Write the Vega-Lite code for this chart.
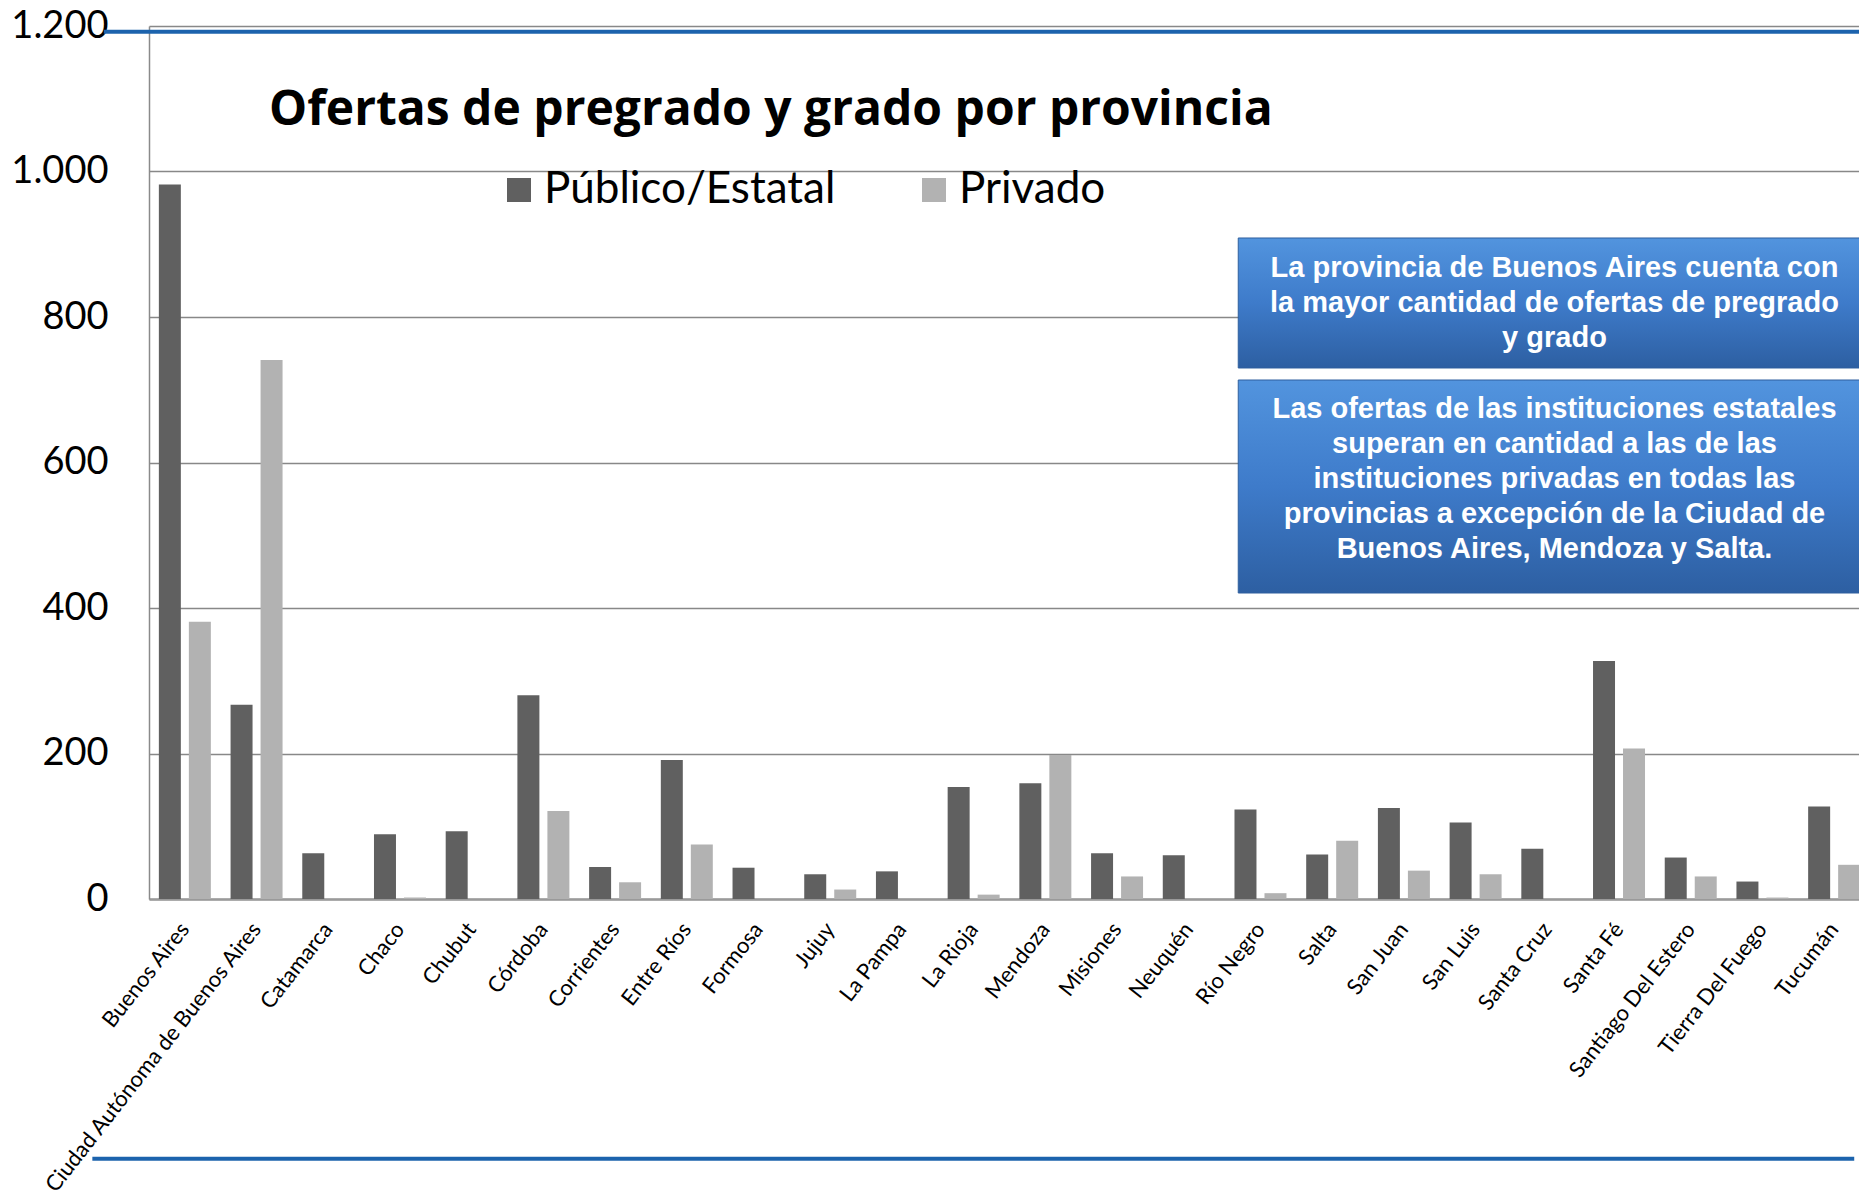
{
  "$schema": "https://vega.github.io/schema/vega-lite/v6.json",
  "autosize": {"type": "none"},
  "padding": {"left": 149, "top": 26, "right": -11, "bottom": 297},
  "width": 1721,
  "height": 873,
  "background": "white",
  "title": {
    "text": "Ofertas de pregrado y grado por provincia",
    "orient": "top",
    "anchor": "start",
    "frame": "group",
    "offset": 0,
    "baseline": "alphabetic",
    "dx": 120,
    "dy": 166,
    "font": "Open Sans",
    "fontWeight": "bold",
    "fontSize": 48,
    "color": "#000000"
  },
  "datasets": {
    "ofertas": [
      {"provincia": "Buenos Aires", "tipo": "Público/Estatal", "ofertas": 982},
      {"provincia": "Buenos Aires", "tipo": "Privado", "ofertas": 381},
      {"provincia": "Ciudad Autónoma de Buenos Aires", "tipo": "Público/Estatal", "ofertas": 267},
      {"provincia": "Ciudad Autónoma de Buenos Aires", "tipo": "Privado", "ofertas": 741},
      {"provincia": "Catamarca", "tipo": "Público/Estatal", "ofertas": 63},
      {"provincia": "Catamarca", "tipo": "Privado", "ofertas": 0},
      {"provincia": "Chaco", "tipo": "Público/Estatal", "ofertas": 89},
      {"provincia": "Chaco", "tipo": "Privado", "ofertas": 2},
      {"provincia": "Chubut", "tipo": "Público/Estatal", "ofertas": 93},
      {"provincia": "Chubut", "tipo": "Privado", "ofertas": 0},
      {"provincia": "Córdoba", "tipo": "Público/Estatal", "ofertas": 280},
      {"provincia": "Córdoba", "tipo": "Privado", "ofertas": 121},
      {"provincia": "Corrientes", "tipo": "Público/Estatal", "ofertas": 44},
      {"provincia": "Corrientes", "tipo": "Privado", "ofertas": 23},
      {"provincia": "Entre Ríos", "tipo": "Público/Estatal", "ofertas": 191},
      {"provincia": "Entre Ríos", "tipo": "Privado", "ofertas": 75},
      {"provincia": "Formosa", "tipo": "Público/Estatal", "ofertas": 43},
      {"provincia": "Formosa", "tipo": "Privado", "ofertas": 0},
      {"provincia": "Jujuy", "tipo": "Público/Estatal", "ofertas": 34},
      {"provincia": "Jujuy", "tipo": "Privado", "ofertas": 13},
      {"provincia": "La Pampa", "tipo": "Público/Estatal", "ofertas": 38},
      {"provincia": "La Pampa", "tipo": "Privado", "ofertas": 0},
      {"provincia": "La Rioja", "tipo": "Público/Estatal", "ofertas": 154},
      {"provincia": "La Rioja", "tipo": "Privado", "ofertas": 6},
      {"provincia": "Mendoza", "tipo": "Público/Estatal", "ofertas": 159},
      {"provincia": "Mendoza", "tipo": "Privado", "ofertas": 198},
      {"provincia": "Misiones", "tipo": "Público/Estatal", "ofertas": 63},
      {"provincia": "Misiones", "tipo": "Privado", "ofertas": 31},
      {"provincia": "Neuquén", "tipo": "Público/Estatal", "ofertas": 60},
      {"provincia": "Neuquén", "tipo": "Privado", "ofertas": 0},
      {"provincia": "Río Negro", "tipo": "Público/Estatal", "ofertas": 123},
      {"provincia": "Río Negro", "tipo": "Privado", "ofertas": 8},
      {"provincia": "Salta", "tipo": "Público/Estatal", "ofertas": 61},
      {"provincia": "Salta", "tipo": "Privado", "ofertas": 80},
      {"provincia": "San Juan", "tipo": "Público/Estatal", "ofertas": 125},
      {"provincia": "San Juan", "tipo": "Privado", "ofertas": 39},
      {"provincia": "San Luis", "tipo": "Público/Estatal", "ofertas": 105},
      {"provincia": "San Luis", "tipo": "Privado", "ofertas": 34},
      {"provincia": "Santa Cruz", "tipo": "Público/Estatal", "ofertas": 69},
      {"provincia": "Santa Cruz", "tipo": "Privado", "ofertas": 0},
      {"provincia": "Santa Fé", "tipo": "Público/Estatal", "ofertas": 327},
      {"provincia": "Santa Fé", "tipo": "Privado", "ofertas": 207},
      {"provincia": "Santiago Del Estero", "tipo": "Público/Estatal", "ofertas": 57},
      {"provincia": "Santiago Del Estero", "tipo": "Privado", "ofertas": 31},
      {"provincia": "Tierra Del Fuego", "tipo": "Público/Estatal", "ofertas": 24},
      {"provincia": "Tierra Del Fuego", "tipo": "Privado", "ofertas": 2},
      {"provincia": "Tucumán", "tipo": "Público/Estatal", "ofertas": 127},
      {"provincia": "Tucumán", "tipo": "Privado", "ofertas": 47}
    ],
    "cajas": [
      {"caja": 1, "x0": 15.19, "x1": 25, "y0": 908.6, "y1": 729.9},
      {"caja": 2, "x0": 15.19, "x1": 25, "y0": 713.4, "y1": 420.6}
    ],
    "textos": [
      {"caja": 1, "xc": 19.6, "yb": 855, "texto": "La provincia de Buenos Aires cuenta con\nla mayor cantidad de ofertas de pregrado\ny grado"},
      {"caja": 2, "xc": 19.6, "yb": 661, "texto": "Las ofertas de las instituciones estatales\nsuperan en cantidad a las de las\ninstituciones privadas en todas las\nprovincias a excepción de la Ciudad de\nBuenos Aires, Mendoza y Salta."}
    ],
    "lineas": [
      {"linea": "superior", "xa": -0.63, "xb": 24.5, "y": 1192},
      {"linea": "inferior", "xa": -0.79, "xb": 23.78, "y": -357}
    ]
  },
  "layer": [
    {
      "data": {"name": "ofertas"},
      "mark": {"type": "bar"},
      "encoding": {
        "x": {
          "field": "provincia", "type": "nominal", "sort": null,
          "scale": {"paddingInner": 0.275, "paddingOuter": 0.1375},
          "axis": {
            "title": null, "labelAngle": -52, "labelFont": "Lato", "labelFontSize": 22,
            "labelColor": "#000000", "labelPadding": 26, "ticks": false, "tickSize": 0,
            "domainColor": "#9a9a9a", "domainWidth": 2.5, "labelOverlap": false, "labelLimit": 0
          }
        },
        "xOffset": {
          "field": "tipo", "type": "nominal", "sort": ["Público/Estatal", "Privado"],
          "scale": {"paddingInner": 0.267, "paddingOuter": 0}
        },
        "y": {
          "field": "ofertas", "type": "quantitative",
          "scale": {"domain": [0, 1200], "nice": false},
          "axis": {
            "title": null, "values": [0, 200, 400, 600, 800, 1000, 1200],
            "labelExpr": "replace(format(datum.value, ','), ',', '.')",
            "labelFont": "Lato", "labelFontSize": 38, "labelColor": "#000000",
            "labelPadding": 41, "ticks": false, "tickSize": 0,
            "grid": true, "gridColor": "#888888", "gridWidth": 1.5,
            "domainColor": "#8a8a8a", "domainWidth": 1.5
          }
        },
        "color": {
          "field": "tipo", "type": "nominal",
          "scale": {"domain": ["Público/Estatal", "Privado"], "range": ["#606060", "#b2b2b2"]},
          "legend": {
            "title": null, "orient": "none", "direction": "horizontal",
            "legendX": 348, "legendY": 142,
            "symbolType": "square", "symbolSize": 576, "symbolStrokeWidth": 0,
            "labelFont": "Lato", "labelFontSize": 44, "labelColor": "#000000",
            "labelOffset": 3, "columnPadding": 76, "labelLimit": 0
          }
        }
      }
    },
    {
      "data": {"name": "cajas"},
      "mark": {"type": "rect", "fill": "#8c8c8c", "opacity": 0.55, "xOffset": 2, "yOffset": 5},
      "encoding": {
        "x": {"field": "x0", "type": "quantitative", "scale": {"domain": [0, 24], "nice": false, "zero": false}, "axis": null},
        "x2": {"field": "x1"},
        "y": {"field": "y0", "type": "quantitative", "scale": {"domain": [0, 1200], "nice": false}},
        "y2": {"field": "y1"}
      }
    },
    {
      "data": {"name": "cajas"},
      "mark": {
        "type": "rect",
        "fill": {"gradient": "linear", "x1": 0, "y1": 0, "x2": 0, "y2": 1,
          "stops": [{"offset": 0, "color": "#5294de"}, {"offset": 0.5, "color": "#3e7bca"}, {"offset": 1, "color": "#2d5fa2"}]},
        "stroke": "#2f5f9e", "strokeWidth": 1
      },
      "encoding": {
        "x": {"field": "x0", "type": "quantitative", "scale": {"domain": [0, 24], "nice": false, "zero": false}, "axis": null},
        "x2": {"field": "x1"},
        "y": {"field": "y0", "type": "quantitative", "scale": {"domain": [0, 1200], "nice": false}},
        "y2": {"field": "y1"}
      }
    },
    {
      "data": {"name": "textos"},
      "mark": {
        "type": "text", "font": "Liberation Sans", "fontWeight": "bold", "fontSize": 29,
        "color": "#ffffff", "align": "center", "baseline": "alphabetic",
        "lineBreak": "\n", "lineHeight": 35
      },
      "encoding": {
        "x": {"field": "xc", "type": "quantitative", "scale": {"domain": [0, 24], "nice": false, "zero": false}, "axis": null},
        "y": {"field": "yb", "type": "quantitative", "scale": {"domain": [0, 1200], "nice": false}},
        "text": {"field": "texto"}
      }
    },
    {
      "data": {"name": "lineas"},
      "mark": {"type": "rule", "color": "#1c63ad", "strokeWidth": 4},
      "encoding": {
        "x": {"field": "xa", "type": "quantitative", "scale": {"domain": [0, 24], "nice": false, "zero": false}, "axis": null},
        "x2": {"field": "xb"},
        "y": {"field": "y", "type": "quantitative", "scale": {"domain": [0, 1200], "nice": false}}
      }
    }
  ],
  "resolve": {"scale": {"x": "independent"}, "axis": {"x": "independent"}},
  "config": {"view": {"stroke": null}}
}
